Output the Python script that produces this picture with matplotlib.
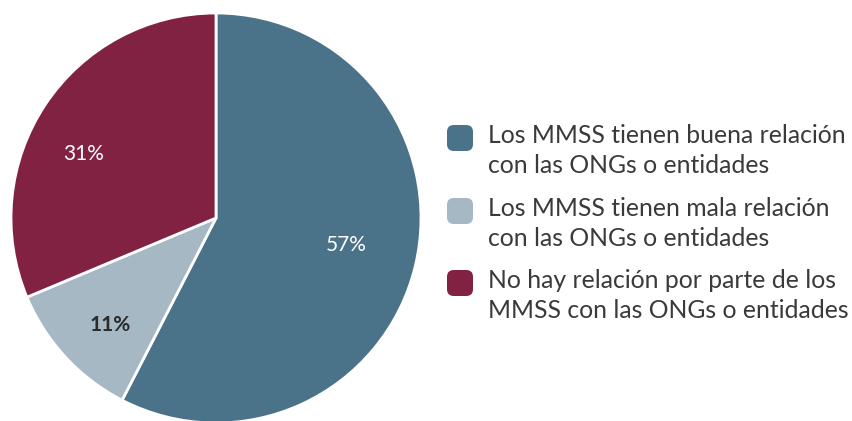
import matplotlib.pyplot as plt
from matplotlib.patches import FancyBboxPatch

labels = [
    "Los MMSS tienen buena relación\ncon las ONGs o entidades",
    "Los MMSS tienen mala relación\ncon las ONGs o entidades",
    "No hay relación por parte de los\nMMSS con las ONGs o entidades",
]
values = [57, 11, 31]
colors = ["#4a7389", "#a5b8c4", "#812242"]
pct_colors = ["white", "#2b2b2b", "white"]
pct_weights = ["normal", "bold", "normal"]
# label spots in pie units (radius = 1)
pct_pos = [(0.635, -0.13), (-0.515, -0.52), (-0.645, 0.31)]

W, H = 852, 421
fig = plt.figure(figsize=(W / 100, H / 100), dpi=100)

# pie axes: centre (216, 218) px from top-left, radius 205 px
cx, cy, r = 216, 218, 205
ax = fig.add_axes([(cx - r) / W, (H - cy - r) / H, 2 * r / W, 2 * r / H])
wedges, texts, autotexts = ax.pie(
    values, colors=colors, startangle=90, counterclock=False,
    autopct="%.0f%%", pctdistance=0.68,
    wedgeprops=dict(edgecolor="white", linewidth=2),
    textprops=dict(fontsize=15, family="Lato"),
)
for t, c, w, v, pos in zip(autotexts, pct_colors, pct_weights, values, pct_pos):
    t.set_color(c)
    t.set_fontweight(w)
    t.set_text(f"{v}%")
    t.set_position(pos)
ax.set_xlim(-1, 1)
ax.set_ylim(-1, 1)
ax.axis("off")

# legend drawn by hand
box = 26
ys = [125, 198, 270]  # top of each box, px from top
for y, col, lab in zip(ys, colors, labels):
    p = FancyBboxPatch((447 / W, (H - y - box) / H), box / W, box / H,
                       boxstyle="round,pad=0,rounding_size=0.008",
                       transform=fig.transFigure, facecolor=col,
                       edgecolor="none", mutation_aspect=W / H)
    fig.patches.append(p)
    fig.text(488 / W, (H - y + 1) / H, lab, ha="left", va="top",
             fontsize=17.8, family="Lato", color="#3a3a3a",
             linespacing=1.35)

fig.savefig("out.png", dpi=100)
